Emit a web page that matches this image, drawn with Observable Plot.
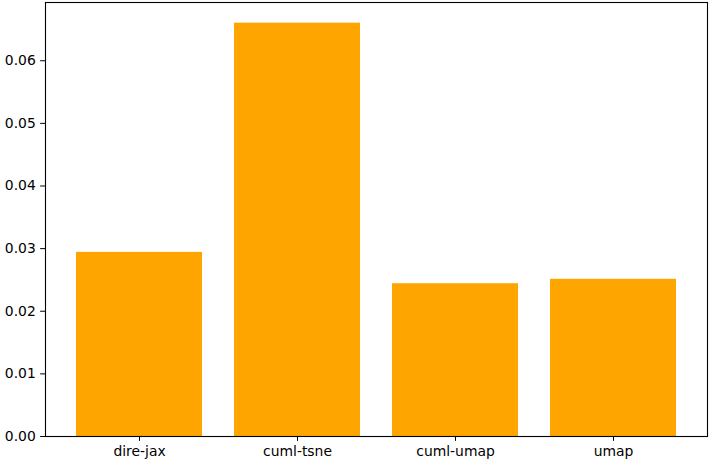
<!DOCTYPE html>
<html>
<head>
<meta charset="utf-8">
<script src="https://cdn.jsdelivr.net/npm/d3@7"></script>
<script src="https://cdn.jsdelivr.net/npm/@observablehq/plot@0.6"></script>
<style>
  html, body { margin: 0; padding: 0; background: white; }
</style>
</head>
<body>
<div id="chart"></div>
<script>
const categories = ["dire-jax", "cuml-tsne", "cuml-umap", "umap"];
const values = [0.0294, 0.0660, 0.0244, 0.0251];
const yTicks = [0, 0.01, 0.02, 0.03, 0.04, 0.05, 0.06];
const barColor = "#FFA500";

const data = categories.map((c, i) => ({name: c, value: values[i]}));

const chart = Plot.plot({
  width: 713,
  height: 464,
  marginLeft: 45,
  marginRight: 6,
  marginTop: 2,
  marginBottom: 28,
  style: {fontFamily: "DejaVu Sans", fontSize: "13.9px", background: "white", color: "black"},
  x: {domain: categories, paddingInner: 0.2, paddingOuter: 0.19, label: null, tickSize: 4.86, tickPadding: 4.86},
  y: {domain: [0, 0.0693], ticks: yTicks, tickFormat: d3.format(".2f"), label: null, tickSize: 4.86, tickPadding: 4.86},
  marks: [
    Plot.barY(data, {x: "name", y: "value", fill: barColor}),
    Plot.frame({stroke: "black", strokeWidth: 1.1})
  ]
});
document.getElementById("chart").appendChild(chart);
</script>
</body>
</html>
